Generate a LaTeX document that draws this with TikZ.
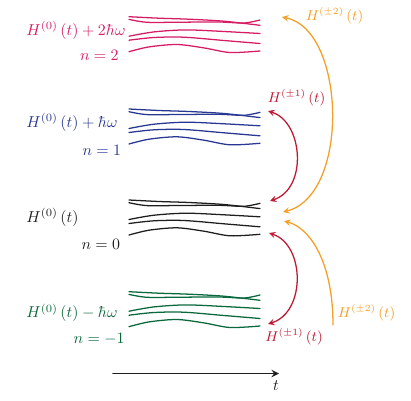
\documentclass[tikz,border=0pt]{standalone}
\usetikzlibrary{arrows}
\definecolor{rubine}{RGB}{214,28,100}
\definecolor{navy}{RGB}{40,55,145}
\definecolor{forest}{RGB}{10,105,60}
\definecolor{crimson}{RGB}{190,25,50}
\definecolor{amber}{RGB}{245,158,40}
\definecolor{ink}{RGB}{30,30,30}
\tikzset{
  strand/.style={line width=0.8pt, smooth},
  hop/.style={line width=0.8pt, >=stealth},
  lvl/.style={inner sep=0pt},
  hoplbl/.style={inner sep=0pt, font=\small}
}
\begin{document}
\begin{tikzpicture}[x=0.63pt, y=-0.63pt, line cap=round, line join=round, >=stealth]
    \useasboundingbox (0,0) rectangle (411,400);

    % strands of each Floquet block
    \foreach \dy/\col in {0/rubine, 92.3/navy, 183.3/ink, 275/forest}{
      \begin{scope}[shift={(129,16.7+\dy)}, draw=\col]
        \draw[strand] plot coordinates {(0,0) (30,1.5) (60,2.5) (95,4.5) (131,8.6)};
        \draw[strand] plot coordinates {(0,2.7) (18,5.6) (50,5.5) (90,5.3) (115,6.3) (131,3.3)};
        \draw[strand] plot coordinates {(0,19.5) (25,15.2) (57,13.2) (95,14.8) (131,16.8)};
        \draw[strand] plot coordinates {(0,23.5) (25,20.8) (55,20.5) (95,23.8) (131,26.8)};
        \draw[strand] plot coordinates {(0,35) (20,30.2) (48,27.8) (75,31.2) (101,35.8) (131,34.3)};
      \end{scope}
    }

    \node[lvl, anchor=west, text=rubine] (h2) at (26,30) {$H^{(0)}\left(t\right)+2\hbar\omega$};
    \node[lvl, anchor=east, text=rubine] (n2) at (119,55) {$n=2$};
    \node[lvl, anchor=west, text=navy] (h1) at (26,122) {$H^{(0)}\left(t\right)+\hbar\omega$};
    \node[lvl, anchor=east, text=navy] (n1) at (121.5,150.7) {$n=1$};
    \node[lvl, anchor=west, text=ink] (h0) at (26,217) {$H^{(0)}\left(t\right)$};
    \node[lvl, anchor=east, text=ink] (n0) at (120.5,244) {$n=0$};
    \node[lvl, anchor=west, text=forest] (hm) at (26,312.7) {$H^{(0)}\left(t\right)-\hbar\omega$};
    \node[lvl, anchor=east, text=forest] (nm) at (125,339) {$n=-1$};

    \coordinate (p1) at (268,111);
    \coordinate (z1) at (270,201);
    \coordinate (z2) at (269,233);
    \coordinate (m1) at (268,324);
    \coordinate (p2) at (282,17);
    \coordinate (z3) at (283,212);
    \coordinate (z4) at (284,221);
    \coordinate (src) at (333,325);

    \draw[hop, crimson, <->] (p1) .. controls (303,122) and (308,188) .. (z1);
    \draw[hop, crimson, <->] (z2) .. controls (305,245) and (306,312) .. (m1);
    \draw[hop, amber, <->] (p2) .. controls (346,30) and (350,195) .. (z3);
    \draw[hop, amber, ->] (src) .. controls (333,262) and (310,228) .. (z4);

    \node[hoplbl, text=amber] (l2a) at (334.5,16) {$H^{(\pm2)}\left(t\right)$};
    \node[hoplbl, text=crimson] (l1a) at (296.5,98) {$H^{(\pm1)}\left(t\right)$};
    \node[hoplbl, text=crimson] (l1b) at (294,337) {$H^{(\pm1)}\left(t\right)$};
    \node[hoplbl, text=amber] (l2b) at (366.5,312.7) {$H^{(\pm2)}\left(t\right)$};

    % time axis
    \coordinate (t0) at (113,373.5);
    \coordinate (t1) at (279,373.5);
    \draw[ink, line width=1.1pt, ->] (t0) -- (t1);
    \node[lvl, text=ink] (tl) at (276,386) {$t$};
\end{tikzpicture}
\end{document}
